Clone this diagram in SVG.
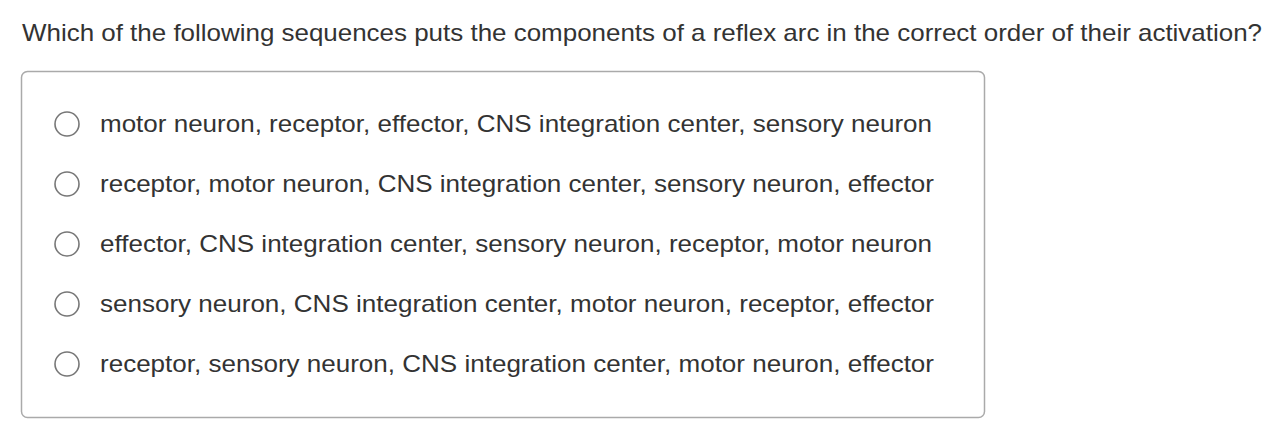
<svg xmlns="http://www.w3.org/2000/svg" width="1286" height="424" viewBox="0 0 1286 424">
<style>
text{font-family:"Liberation Sans",Arial,sans-serif;font-size:24px;fill:#333}
.r{fill:#fff;stroke:#777;stroke-width:1.6}
</style>
<rect width="1286" height="424" fill="#fff"/>
<text id="question" x="22" y="41" textLength="1240" lengthAdjust="spacingAndGlyphs">Which of the following sequences puts the components of a reflex arc in the correct order of their activation?</text>
<rect id="box" x="21.5" y="71.5" width="963" height="346" rx="6" fill="#fff" stroke="#aaa" stroke-width="1.5"/>
<g id="opt1"><circle class="r" cx="67" cy="124" r="12"/><text x="100" y="132" textLength="832" lengthAdjust="spacingAndGlyphs">motor neuron, receptor, effector, CNS integration center, sensory neuron</text></g>
<g id="opt2"><circle class="r" cx="67" cy="184" r="12"/><text x="100" y="192" textLength="834" lengthAdjust="spacingAndGlyphs">receptor, motor neuron, CNS integration center, sensory neuron, effector</text></g>
<g id="opt3"><circle class="r" cx="67" cy="244" r="12"/><text x="100" y="252" textLength="832" lengthAdjust="spacingAndGlyphs">effector, CNS integration center, sensory neuron, receptor, motor neuron</text></g>
<g id="opt4"><circle class="r" cx="67" cy="304" r="12"/><text x="100" y="312" textLength="834" lengthAdjust="spacingAndGlyphs">sensory neuron, CNS integration center, motor neuron, receptor, effector</text></g>
<g id="opt5"><circle class="r" cx="67" cy="364" r="12"/><text x="100" y="372" textLength="834" lengthAdjust="spacingAndGlyphs">receptor, sensory neuron, CNS integration center, motor neuron, effector</text></g>
<g id="connectors"/>
</svg>
